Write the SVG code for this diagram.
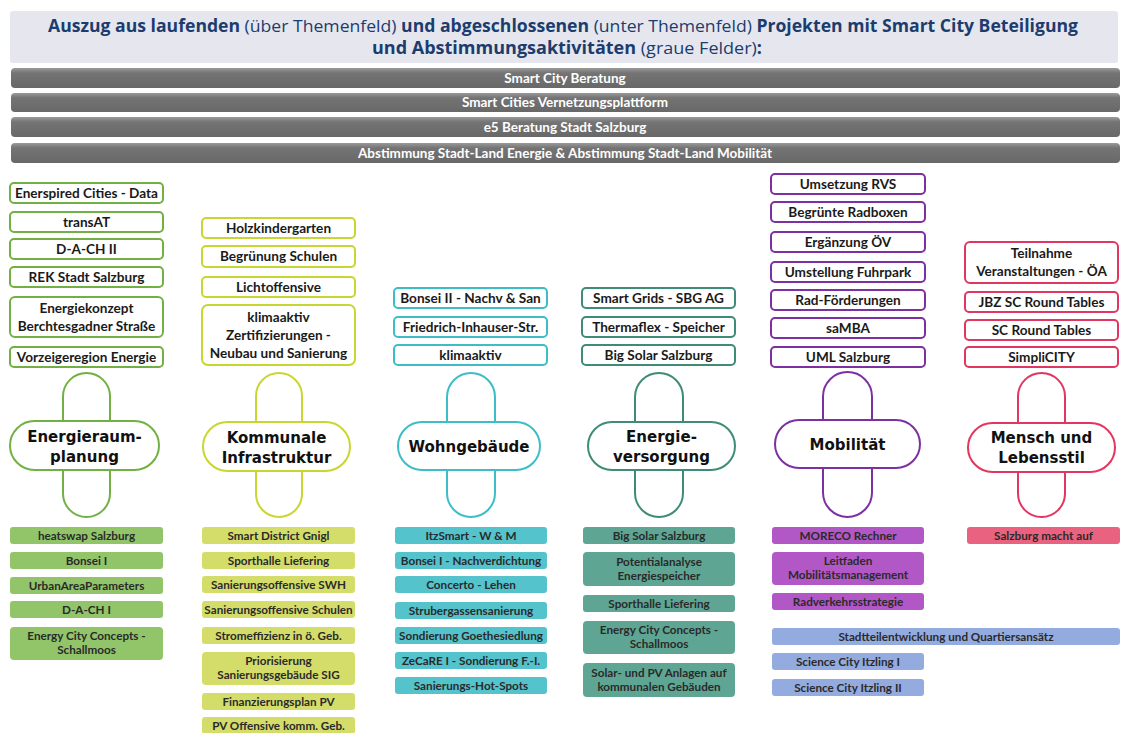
<svg xmlns="http://www.w3.org/2000/svg" width="1131" height="733" viewBox="0 0 1131 733">
<defs>
<linearGradient id="gbar" x1="0" y1="0" x2="0" y2="1">
<stop offset="0" stop-color="#9a9a9a"/>
<stop offset="0.25" stop-color="#747474"/>
<stop offset="1" stop-color="#686868"/>
</linearGradient>
<style>
.hdr{font-family:"Open Sans","Liberation Sans",sans-serif;font-size:17px;fill:#1c3c6e;text-anchor:middle}
.b{font-weight:700}
.bar{fill:url(#gbar)}
.bart{font-family:Lato,"Liberation Sans",sans-serif;font-weight:700;font-size:13.5px;fill:#fff;text-anchor:middle}
.tb{fill:#fff;stroke-width:2}
.t{font-family:Lato,"Liberation Sans",sans-serif;font-weight:700;font-size:13.6px;fill:#1a1a1a;text-anchor:middle}
.bt{font-family:Lato,"Liberation Sans",sans-serif;font-weight:700;font-size:11.7px;fill:#2a2a2a;text-anchor:middle}
.cap{font-family:"DejaVu Sans",Verdana,sans-serif;font-weight:700;font-size:15px;fill:#111;text-anchor:middle}
.pill{fill:#fff;stroke-width:2}
.s1{stroke:#72b043}.s2{stroke:#c9d632}.s3{stroke:#3dbdc6}.s4{stroke:#3e8c77}.s5{stroke:#7c30a2}.s6{stroke:#e0365f}
.f1{fill:#92c46a}.f2{fill:#d5dd6a}.f3{fill:#55c3cc}.f4{fill:#5ea693}.f5{fill:#b257c6}.f6{fill:#e9627f}.f7{fill:#93abdf}
</style>
</defs>
<rect width="1131" height="733" fill="#fff"/>

<g id="header">
<rect x="10" y="11" width="1108" height="52" rx="3" fill="#e6e7ee"/>
<text class="hdr" x="563" y="32" textLength="1030" lengthAdjust="spacingAndGlyphs"><tspan class="b">Auszug aus laufenden</tspan> (über Themenfeld) <tspan class="b">und abgeschlossenen</tspan> (unter Themenfeld) <tspan class="b">Projekten mit Smart City Beteiligung</tspan></text>
<text class="hdr" x="567" y="54" textLength="390" lengthAdjust="spacingAndGlyphs"><tspan class="b">und Abstimmungsaktivitäten</tspan> (graue Felder)<tspan class="b">:</tspan></text>
</g>

<g id="bars">
<g id="bar1"><rect class="bar" x="11" y="68" width="1109" height="20" rx="4"/><text class="bart" x="565" y="82.5">Smart City Beratung</text></g>
<g id="bar2"><rect class="bar" x="11" y="93" width="1109" height="19" rx="4"/><text class="bart" x="565" y="107">Smart Cities Vernetzungsplattform</text></g>
<g id="bar3"><rect class="bar" x="11" y="117" width="1109" height="20" rx="4"/><text class="bart" x="565" y="131.5">e5 Beratung Stadt Salzburg</text></g>
<g id="bar4"><rect class="bar" x="11" y="143" width="1109" height="20" rx="4"/><text class="bart" x="565" y="157.5">Abstimmung Stadt-Land Energie &amp; Abstimmung Stadt-Land Mobilität</text></g>
</g>

<g id="connectors"></g>

<!-- Column 1: Energieraumplanung -->
<g id="col1">
<g id="e1"><rect class="tb s1" x="10" y="183" width="153" height="20" rx="4"/><text class="t" x="86.5" y="197.5">Enerspired Cities - Data</text></g>
<g id="e2"><rect class="tb s1" x="10" y="212" width="153" height="20" rx="4"/><text class="t" x="86.5" y="226.5">transAT</text></g>
<g id="e3"><rect class="tb s1" x="10" y="239" width="153" height="20" rx="4"/><text class="t" x="86.5" y="253.5">D-A-CH II</text></g>
<g id="e4"><rect class="tb s1" x="10" y="267" width="153" height="20" rx="4"/><text class="t" x="86.5" y="281.5">REK Stadt Salzburg</text></g>
<g id="e5"><rect class="tb s1" x="10" y="297" width="153" height="40" rx="5"/><text class="t" x="86.5" y="313">Energiekonzept</text><text class="t" x="86.5" y="331">Berchtesgadner Straße</text></g>
<g id="e6"><rect class="tb s1" x="10" y="347" width="153" height="20" rx="4"/><text class="t" x="86.5" y="361.5">Vorzeigeregion Energie</text></g>
<g id="theme1"><rect class="pill s1" x="63" y="373" width="47" height="144" rx="23.5"/><rect class="pill s1" x="10" y="421" width="149" height="49" rx="24.5"/><text class="cap" x="84.5" y="442">Energieraum-</text><text class="cap" x="84.5" y="462">planung</text></g>
<g id="e7"><rect class="f1" x="10" y="527" width="153" height="17" rx="3"/><text class="bt" x="86.5" y="539.5">heatswap Salzburg</text></g>
<g id="e8"><rect class="f1" x="10" y="552" width="153" height="17" rx="3"/><text class="bt" x="86.5" y="564.5">Bonsei I</text></g>
<g id="e9"><rect class="f1" x="10" y="577" width="153" height="17" rx="3"/><text class="bt" x="86.5" y="589.5">UrbanAreaParameters</text></g>
<g id="e10"><rect class="f1" x="10" y="601" width="153" height="17" rx="3"/><text class="bt" x="86.5" y="613.5">D-A-CH I</text></g>
<g id="e11"><rect class="f1" x="10" y="627" width="153" height="33" rx="4"/><text class="bt" x="86.5" y="640">Energy City Concepts -</text><text class="bt" x="86.5" y="654">Schallmoos</text></g>
</g>

<!-- Column 2: Kommunale Infrastruktur -->
<g id="col2">
<g id="k1"><rect class="tb s2" x="202" y="218" width="153" height="20" rx="4"/><text class="t" x="278.5" y="232.5">Holzkindergarten</text></g>
<g id="k2"><rect class="tb s2" x="202" y="246" width="153" height="21" rx="4"/><text class="t" x="278.5" y="261">Begrünung Schulen</text></g>
<g id="k3"><rect class="tb s2" x="202" y="277" width="153" height="20" rx="4"/><text class="t" x="278.5" y="291.5">Lichtoffensive</text></g>
<g id="k4"><rect class="tb s2" x="202" y="305" width="153" height="60" rx="6"/><text class="t" x="278.5" y="321.5">klimaaktiv</text><text class="t" x="278.5" y="339.5">Zertifizierungen -</text><text class="t" x="278.5" y="357.5">Neubau und Sanierung</text></g>
<g id="theme2"><rect class="pill s2" x="256" y="373" width="46" height="144" rx="23"/><rect class="pill s2" x="203" y="422" width="147" height="49" rx="24.5"/><text class="cap" x="276.5" y="443">Kommunale</text><text class="cap" x="276.5" y="463">Infrastruktur</text></g>
<g id="k5"><rect class="f2" x="202" y="527" width="153" height="17" rx="3"/><text class="bt" x="278.5" y="539.5">Smart District Gnigl</text></g>
<g id="k6"><rect class="f2" x="202" y="552" width="153" height="17" rx="3"/><text class="bt" x="278.5" y="564.5">Sporthalle Liefering</text></g>
<g id="k7"><rect class="f2" x="202" y="576" width="153" height="17" rx="3"/><text class="bt" x="278.5" y="588.5">Sanierungsoffensive SWH</text></g>
<g id="k8"><rect class="f2" x="202" y="601" width="153" height="17" rx="3"/><text class="bt" x="278.5" y="613.5">Sanierungsoffensive Schulen</text></g>
<g id="k9"><rect class="f2" x="202" y="627" width="153" height="17" rx="3"/><text class="bt" x="278.5" y="639.5">Stromeffizienz in ö. Geb.</text></g>
<g id="k10"><rect class="f2" x="202" y="652" width="153" height="33" rx="4"/><text class="bt" x="278.5" y="665">Priorisierung</text><text class="bt" x="278.5" y="679">Sanierungsgebäude SIG</text></g>
<g id="k11"><rect class="f2" x="202" y="693" width="153" height="17" rx="3"/><text class="bt" x="278.5" y="705.5">Finanzierungsplan PV</text></g>
<g id="k12"><rect class="f2" x="202" y="717" width="153" height="17" rx="3"/><text class="bt" x="278.5" y="729.5">PV Offensive komm. Geb.</text></g>
</g>

<!-- Column 3: Wohngebäude -->
<g id="col3">
<g id="w1"><rect class="tb s3" x="394" y="288" width="153" height="20" rx="4"/><text class="t" x="470.5" y="302.5">Bonsei II - Nachv &amp; San</text></g>
<g id="w2"><rect class="tb s3" x="394" y="317" width="153" height="20" rx="4"/><text class="t" x="470.5" y="331.5">Friedrich-Inhauser-Str.</text></g>
<g id="w3"><rect class="tb s3" x="394" y="345" width="153" height="20" rx="4"/><text class="t" x="470.5" y="359.5">klimaaktiv</text></g>
<g id="theme3"><rect class="pill s3" x="447" y="373" width="48" height="144" rx="24"/><rect class="pill s3" x="398" y="422" width="142" height="48" rx="24"/><text class="cap" x="469" y="451.5">Wohngebäude</text></g>
<g id="w4"><rect class="f3" x="395" y="527" width="152" height="17" rx="3"/><text class="bt" x="471" y="539.5">ItzSmart - W &amp; M</text></g>
<g id="w5"><rect class="f3" x="395" y="552" width="152" height="17" rx="3"/><text class="bt" x="471" y="564.5">Bonsei I - Nachverdichtung</text></g>
<g id="w6"><rect class="f3" x="395" y="576" width="152" height="17" rx="3"/><text class="bt" x="471" y="588.5">Concerto - Lehen</text></g>
<g id="w7"><rect class="f3" x="395" y="602" width="152" height="17" rx="3"/><text class="bt" x="471" y="614.5">Strubergassensanierung</text></g>
<g id="w8"><rect class="f3" x="395" y="627" width="152" height="17" rx="3"/><text class="bt" x="471" y="639.5">Sondierung Goethesiedlung</text></g>
<g id="w9"><rect class="f3" x="395" y="652" width="152" height="17" rx="3"/><text class="bt" x="471" y="664.5">ZeCaRE I - Sondierung F.-I.</text></g>
<g id="w10"><rect class="f3" x="395" y="677" width="152" height="17" rx="3"/><text class="bt" x="471" y="689.5">Sanierungs-Hot-Spots</text></g>
</g>

<!-- Column 4: Energieversorgung -->
<g id="col4">
<g id="v1"><rect class="tb s4" x="582" y="288" width="153" height="20" rx="4"/><text class="t" x="658.5" y="302.5">Smart Grids - SBG AG</text></g>
<g id="v2"><rect class="tb s4" x="582" y="317" width="153" height="20" rx="4"/><text class="t" x="658.5" y="331.5">Thermaflex - Speicher</text></g>
<g id="v3"><rect class="tb s4" x="582" y="345" width="153" height="20" rx="4"/><text class="t" x="658.5" y="359.5">Big Solar Salzburg</text></g>
<g id="theme4"><rect class="pill s4" x="635" y="373" width="48" height="144" rx="24"/><rect class="pill s4" x="588" y="422" width="147" height="48" rx="24"/><text class="cap" x="661.5" y="442">Energie-</text><text class="cap" x="661.5" y="462">versorgung</text></g>
<g id="v4"><rect class="f4" x="583" y="527" width="152" height="17" rx="3"/><text class="bt" x="659" y="539.5">Big Solar Salzburg</text></g>
<g id="v5"><rect class="f4" x="583" y="552" width="152" height="34" rx="4"/><text class="bt" x="659" y="565.5">Potentialanalyse</text><text class="bt" x="659" y="579.5">Energiespeicher</text></g>
<g id="v6"><rect class="f4" x="583" y="595" width="152" height="17" rx="3"/><text class="bt" x="659" y="607.5">Sporthalle Liefering</text></g>
<g id="v7"><rect class="f4" x="583" y="621" width="152" height="33" rx="4"/><text class="bt" x="659" y="634">Energy City Concepts -</text><text class="bt" x="659" y="648">Schallmoos</text></g>
<g id="v8"><rect class="f4" x="583" y="663" width="152" height="34" rx="4"/><text class="bt" x="659" y="676.5">Solar- und PV Anlagen auf</text><text class="bt" x="659" y="690.5">kommunalen Gebäuden</text></g>
</g>

<!-- Column 5: Mobilität -->
<g id="col5">
<g id="m1"><rect class="tb s5" x="771" y="174" width="154" height="20" rx="4"/><text class="t" x="848" y="188.5">Umsetzung RVS</text></g>
<g id="m2"><rect class="tb s5" x="771" y="202" width="154" height="20" rx="4"/><text class="t" x="848" y="216.5">Begrünte Radboxen</text></g>
<g id="m3"><rect class="tb s5" x="771" y="232" width="154" height="20" rx="4"/><text class="t" x="848" y="246.5">Ergänzung ÖV</text></g>
<g id="m4"><rect class="tb s5" x="771" y="262" width="154" height="20" rx="4"/><text class="t" x="848" y="276.5">Umstellung Fuhrpark</text></g>
<g id="m5"><rect class="tb s5" x="771" y="290" width="154" height="20" rx="4"/><text class="t" x="848" y="304.5">Rad-Förderungen</text></g>
<g id="m6"><rect class="tb s5" x="771" y="318" width="154" height="20" rx="4"/><text class="t" x="848" y="332.5">saMBA</text></g>
<g id="m7"><rect class="tb s5" x="771" y="347" width="154" height="20" rx="4"/><text class="t" x="848" y="361.5">UML Salzburg</text></g>
<g id="theme5"><rect class="pill s5" x="823" y="372" width="49" height="145" rx="24.5"/><rect class="pill s5" x="775" y="420" width="145" height="48" rx="24"/><text class="cap" x="847.5" y="449.5">Mobilität</text></g>
<g id="m8"><rect class="f5" x="772" y="527" width="152" height="17" rx="3"/><text class="bt" x="848" y="539.5">MORECO Rechner</text></g>
<g id="m9"><rect class="f5" x="772" y="552" width="152" height="33" rx="4"/><text class="bt" x="848" y="565">Leitfaden</text><text class="bt" x="848" y="579">Mobilitätsmanagement</text></g>
<g id="m10"><rect class="f5" x="772" y="593" width="152" height="17" rx="3"/><text class="bt" x="848" y="605.5">Radverkehrsstrategie</text></g>
<g id="q1"><rect class="f7" x="772" y="628" width="348" height="17" rx="3"/><text class="bt" x="946" y="640.5">Stadtteilentwicklung und Quartiersansätz</text></g>
<g id="q2"><rect class="f7" x="772" y="653" width="152" height="17" rx="3"/><text class="bt" x="848" y="665.5">Science City Itzling I</text></g>
<g id="q3"><rect class="f7" x="772" y="679" width="152" height="17" rx="3"/><text class="bt" x="848" y="691.5">Science City Itzling II</text></g>
</g>

<!-- Column 6: Mensch und Lebensstil -->
<g id="col6">
<g id="l1"><rect class="tb s6" x="965" y="242" width="153" height="41" rx="5"/><text class="t" x="1041.5" y="258">Teilnahme</text><text class="t" x="1041.5" y="276">Veranstaltungen - ÖA</text></g>
<g id="l2"><rect class="tb s6" x="965" y="292" width="153" height="20" rx="4"/><text class="t" x="1041.5" y="306.5">JBZ SC Round Tables</text></g>
<g id="l3"><rect class="tb s6" x="965" y="320" width="153" height="20" rx="4"/><text class="t" x="1041.5" y="334.5">SC Round Tables</text></g>
<g id="l4"><rect class="tb s6" x="965" y="347" width="153" height="20" rx="4"/><text class="t" x="1041.5" y="361.5">SimpliCITY</text></g>
<g id="theme6"><rect class="pill s6" x="1018" y="373" width="47" height="144" rx="23.5"/><rect class="pill s6" x="968" y="423" width="147" height="49" rx="24.5"/><text class="cap" x="1041.5" y="443">Mensch und</text><text class="cap" x="1041.5" y="463">Lebensstil</text></g>
<g id="l5"><rect class="f6" x="967" y="527" width="153" height="17" rx="3"/><text class="bt" x="1043.5" y="539.5">Salzburg macht auf</text></g>
</g>
</svg>
